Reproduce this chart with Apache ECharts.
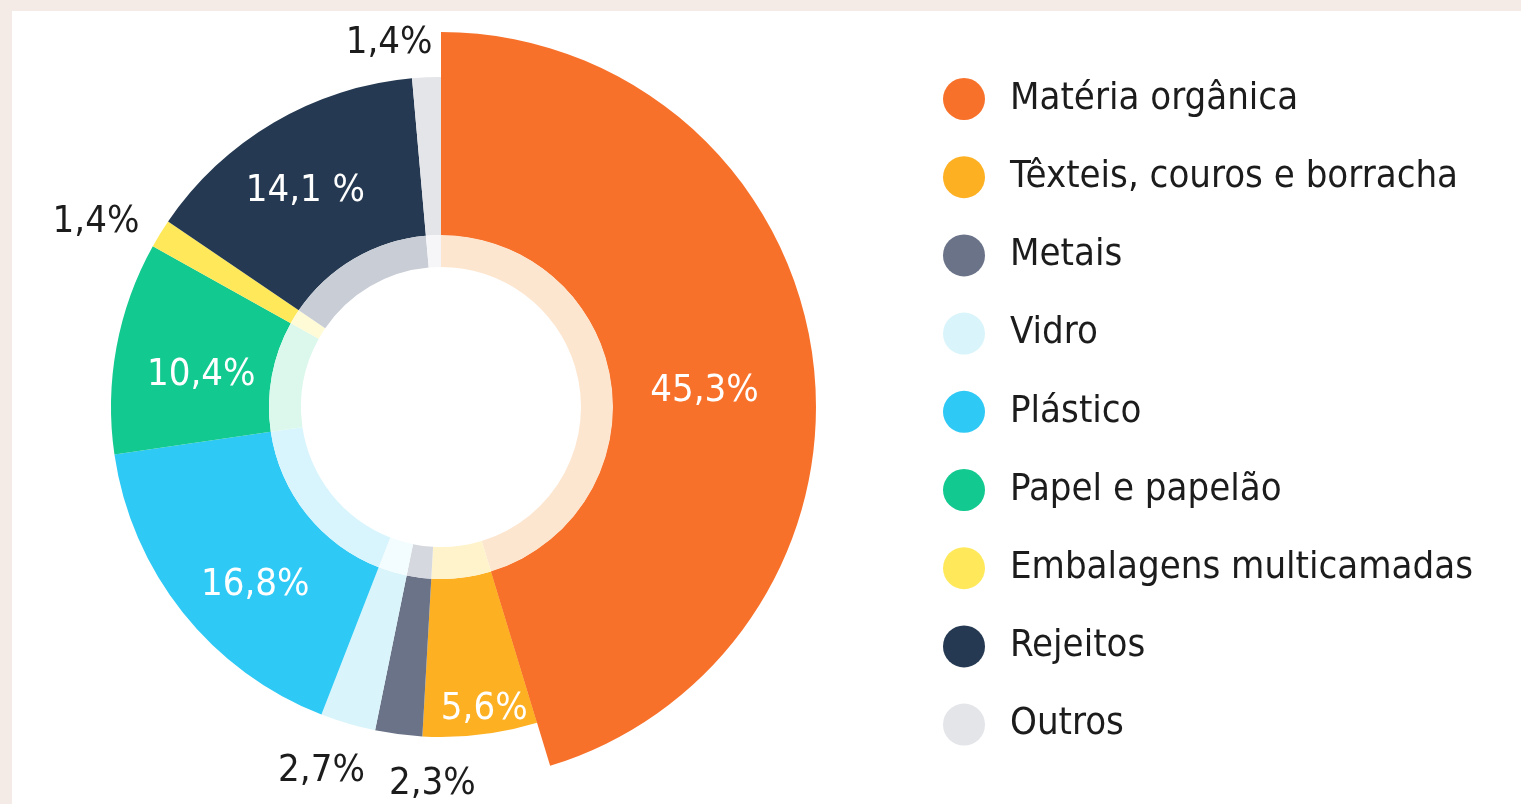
<!DOCTYPE html>
<html>
<head>
<meta charset="utf-8">
<script src="https://cdn.jsdelivr.net/npm/echarts@6/dist/echarts.min.js"></script>
<style>
  html, body { margin: 0; padding: 0; background: #f4ebe6; }
  #chart { width: 1521px; height: 804px; }
</style>
</head>
<body>
<div id="chart"></div>
<script>
const categories = ['Matéria orgânica', 'Têxteis, couros e borracha', 'Metais', 'Vidro', 'Plástico',
  'Papel e papelão', 'Embalagens multicamadas', 'Rejeitos', 'Outros'];
const values = [45.3, 5.6, 2.3, 2.7, 16.8, 10.4, 1.4, 14.1, 1.4];
const labelTexts = ['45,3%', '5,6%', '2,3%', '2,7%', '16,8%', '10,4%', '1,4%', '14,1 %', '1,4%'];
const colors = ['#f8712a', '#fdb022', '#6b7388', '#d9f5fb', '#2ec9f5', '#12c98f', '#ffe95a', '#253a52', '#e4e5e9'];
const lightColors = ['#fde6cf', '#fff3cc', '#d6d8df', '#f3fcfe', '#d8f5fd', '#dcf8ec', '#fffbd6', '#c9cdd6', '#f6f6f8'];
// which labels sit outside the ring
const outside = [false, false, true, true, false, false, true, false, true];
// small label nudges (dx, dy) so they sit as in the original layout
const nudges = [[-10, 25], [13, 50], [87, 0], [90, 27], [13, 20], [10, 14], [0, 0], [-7, 3], [14, -12]];

const FONT = "'Liberation Sans Narrow', 'DejaVu Sans Condensed', sans-serif";
const center = [441, 407];

const chart = echarts.init(document.getElementById('chart'));

const nudge = p => ({ dx: nudges[p.dataIndex][0], dy: nudges[p.dataIndex][1] });

const mainData = categories.map((name, i) => ({
  name: name,
  value: values[i],
  itemStyle: { color: colors[i] },
  label: i === 0 ? { show: false } : (outside[i]
    ? { show: true, position: 'outside', color: '#1c1c1c' }
    : { show: true, position: 'inside', color: '#ffffff' }),
  labelLine: { show: false, length: 22, length2: 2 }
}));

const bigData = categories.map((name, i) => ({
  name: name,
  value: values[i],
  itemStyle: { color: i === 0 ? colors[0] : 'rgba(0,0,0,0)' },
  label: { show: i === 0 }
}));

const innerData = categories.map((name, i) => ({
  name: name,
  value: values[i],
  itemStyle: { color: lightColors[i] }
}));

chart.setOption({
  backgroundColor: '#f4ebe6',
  animation: false,
  graphic: [{
    type: 'rect', left: 12, top: 11, z: -10,
    shape: { width: 1509, height: 793 },
    style: { fill: '#ffffff' }
  }],
  legend: {
    orient: 'vertical',
    left: 943,
    top: 78,
    padding: 0,
    itemWidth: 42,
    itemHeight: 42,
    itemGap: 36.2,
    icon: 'circle',
    selectedMode: false,
    data: categories,
    textStyle: { fontFamily: FONT, fontSize: 38, color: '#1c1c1c', padding: [4, 0, 0, 20] }
  },
  series: [
    {
      type: 'pie',
      name: 'main',
      center: center,
      radius: [172, 330],
      silent: true,
      z: 2,
      data: mainData,
      label: {
        fontFamily: FONT,
        fontSize: 38,
        formatter: p => labelTexts[p.dataIndex]
      },
      labelLayout: nudge
    },
    {
      type: 'pie',
      name: 'big',
      center: center,
      radius: [172, 375],
      silent: true,
      z: 3,
      data: bigData,
      label: {
        position: 'inside',
        color: '#ffffff',
        fontFamily: FONT,
        fontSize: 38,
        formatter: p => labelTexts[p.dataIndex]
      },
      labelLine: { show: false },
      labelLayout: nudge
    },
    {
      type: 'pie',
      name: 'inner',
      center: center,
      radius: [140, 172],
      silent: true,
      z: 2,
      data: innerData,
      label: { show: false },
      labelLine: { show: false }
    }
  ]
});
</script>
</body>
</html>
